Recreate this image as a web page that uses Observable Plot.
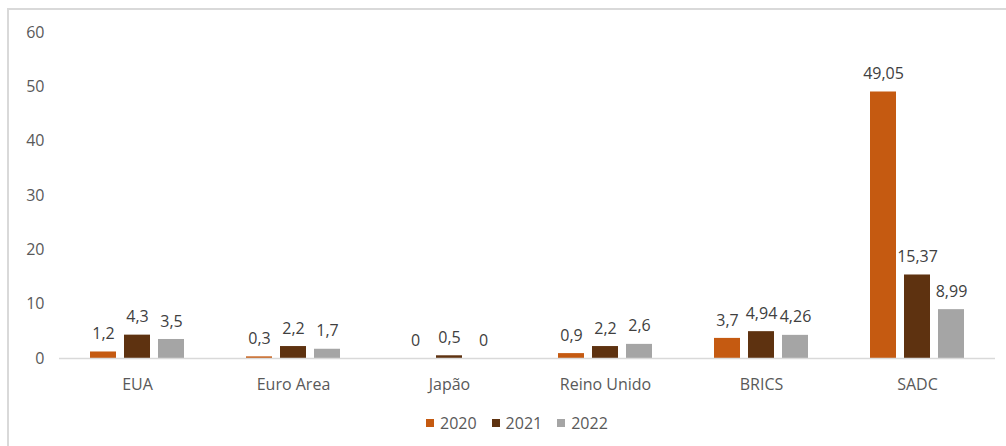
<!DOCTYPE html>
<html>
<head>
<meta charset="utf-8">
<script src="https://cdn.jsdelivr.net/npm/d3@7"></script>
<script src="https://cdn.jsdelivr.net/npm/@observablehq/plot@0.6"></script>
<style>
  html, body { margin: 0; padding: 0; background: #fff; overflow: hidden; }
  #wrap { position: relative; width: 1006px; height: 446px; overflow: hidden; font-family: "Open Sans", sans-serif; }
  #border { position: absolute; left: 7px; top: 8px; width: 1020px; height: 460px;
            border-left: 2px solid #d9d9d9; border-top: 2px solid #d9d9d9; }
  #chart { position: absolute; left: 0; top: 0; }
  #legend { position: absolute; left: 426px; top: 412px; display: flex; align-items: center;
            font-size: 16px; color: #595959; }
  #legend .item { display: flex; align-items: center; margin-right: 15px; }
  #legend .sw { width: 8px; height: 8px; margin-right: 6px; }
</style>
</head>
<body>
<div id="wrap">
  <div id="border"></div>
  <div id="chart"></div>
  <div id="legend"></div>
</div>
<script>
// Regions and yearly values
const regions = ["EUA", "Euro Area", "Japão", "Reino Unido", "BRICS", "SADC"];
const years = ["2020", "2021", "2022"];
const values2020 = [1.2, 0.3, 0, 0.9, 3.7, 49.05];
const values2021 = [4.3, 2.2, 0.5, 2.2, 4.94, 15.37];
const values2022 = [3.5, 1.7, 0, 2.6, 4.26, 8.99];
const colors = ["#c55a11", "#5e3210", "#a5a5a5"];
const yTicks = [0, 10, 20, 30, 40, 50, 60];

const series = [values2020, values2021, values2022];
const rows = [];
regions.forEach((r, i) => {
  years.forEach((y, j) => rows.push({region: r, year: y, value: series[j][i]}));
});

const fmt = v => String(v).replace(".", ",");

const chart = Plot.plot({
  width: 1006,
  height: 400,
  marginLeft: 57,
  marginRight: 9,
  marginTop: 32,
  marginBottom: 42,
  style: {fontFamily: "Open Sans, sans-serif", fontSize: "16px", color: "#595959", background: "transparent"},
  fx: {domain: regions, padding: 0, axis: "bottom", tickSize: 0, tickPadding: 20, label: null},
  x: {domain: years, axis: null, paddingInner: 0.23, paddingOuter: 0.85},
  y: {domain: [0, 60], ticks: yTicks, tickSize: 0, tickPadding: 15, label: null, axis: "left"},
  color: {domain: years, range: colors},
  marks: [
    Plot.barY(rows, {fx: "region", x: "year", y: "value", fill: "year"}),
    Plot.ruleY([0], {stroke: "#d9d9d9", strokeWidth: 1.5}),
    Plot.text(rows, {fx: "region", x: "year", y: "value", text: d => fmt(d.value),
                     dy: -18, fill: "#404040", fontSize: 16})
  ]
});
document.getElementById("chart").appendChild(chart);

// Legend below the plot
const legend = document.getElementById("legend");
years.forEach((y, j) => {
  const item = document.createElement("div");
  item.className = "item";
  const sw = document.createElement("div");
  sw.className = "sw";
  sw.style.background = colors[j];
  const label = document.createElement("span");
  label.textContent = y;
  item.appendChild(sw);
  item.appendChild(label);
  legend.appendChild(item);
});
</script>
</body>
</html>
